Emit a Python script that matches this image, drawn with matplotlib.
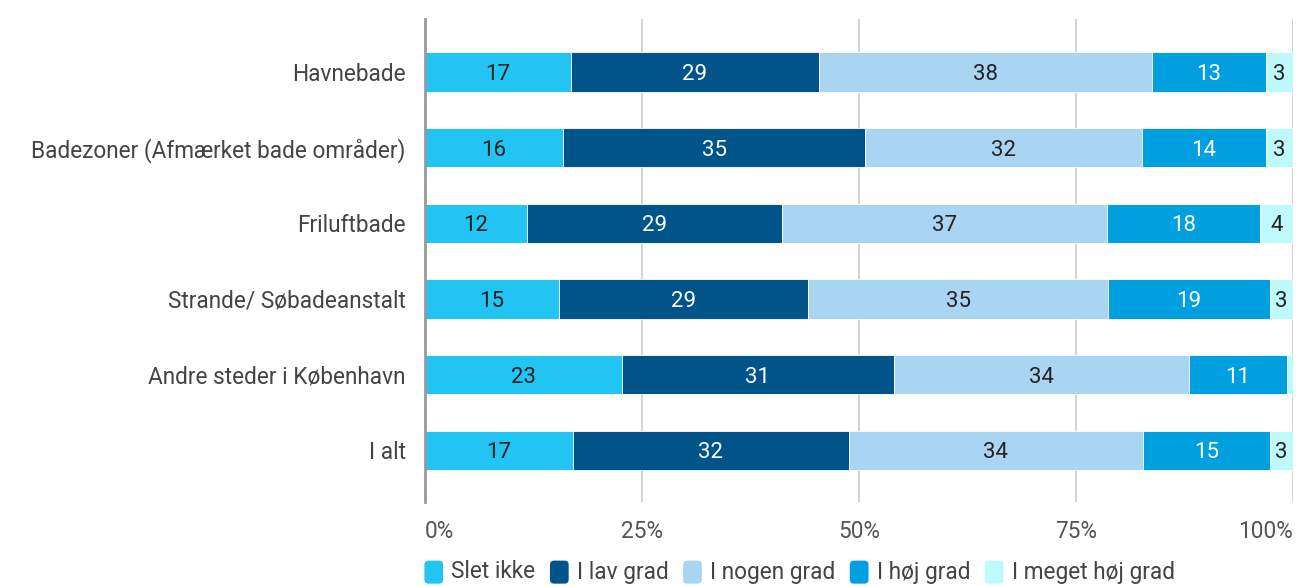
import matplotlib.pyplot as plt
from matplotlib.patches import Patch, FancyBboxPatch
from matplotlib.legend_handler import HandlerPatch

plt.rcParams['font.family'] = ['Roboto', 'DejaVu Sans']

categories = ["Havnebade", "Badezoner (Afmærket bade områder)", "Friluftbade",
              "Strande/ Søbadeanstalt", "Andre steder i København", "I alt"]
series_names = ["Slet ikke", "I lav grad", "I nogen grad", "I høj grad", "I meget høj grad"]
slet_ikke = [16.8, 15.9, 11.7, 15.4, 22.7, 17.0]
lav_grad = [28.6, 34.8, 29.4, 28.7, 31.3, 31.8]
nogen_grad = [38.3, 31.9, 37.4, 34.6, 34.0, 33.9]
hoj_grad = [13.1, 14.2, 17.7, 18.6, 11.3, 14.6]
meget_hoj_grad = [3.2, 3.2, 3.8, 2.7, 0.7, 2.7]
x_ticks = [0, 25, 50, 75, 100]
x_ticklabels = ["0%", "25%", "50%", "75%", "100%"]

series = [slet_ikke, lav_grad, nogen_grad, hoj_grad, meget_hoj_grad]
colors = ["#21c4f3", "#00548a", "#a9d5f3", "#009fe0", "#bdf9fd"]
text_colors = ["#222222", "white", "#222222", "white", "#222222"]


class RoundHandler(HandlerPatch):
    def create_artists(self, legend, orig_handle, xdescent, ydescent,
                       width, height, fontsize, trans):
        p = FancyBboxPatch((-xdescent + 1, -ydescent - 2), width - 2, height + 2,
                           boxstyle="round,pad=0,rounding_size=3",
                           facecolor=orig_handle.get_facecolor(),
                           edgecolor="none", transform=trans)
        return [p]


fig = plt.figure(figsize=(13.03, 5.86), dpi=100)
ax = fig.add_axes([425 / 1303, 1 - 502 / 586, 868.3 / 1303, 483 / 586])

ypos = list(range(len(categories)))
left = [0.0] * len(categories)
for vals, col, tcol in zip(series, colors, text_colors):
    bars = ax.barh(ypos, vals, left=left, height=0.52, color=col,
                   edgecolor="white", linewidth=0.6, zorder=2)
    for b, v in zip(bars, vals):
        if v >= 1.5:
            ax.text(b.get_x() + b.get_width() / 2, b.get_y() + b.get_height() / 2,
                    f"{v:.0f}", ha="center", va="center_baseline", color=tcol,
                    fontsize=16, zorder=3)
    left = [l + v for l, v in zip(left, vals)]

ax.set_xlim(0, 100)
ax.set_ylim(5.683, -0.70)
ax.set_yticks(ypos)
ax.set_yticklabels(categories, fontsize=16.3, color="#444444")
ax.set_xticks(x_ticks)
ax.set_xticklabels(x_ticklabels, fontsize=16.3, color="#555555")
ax.get_xticklabels()[0].set_ha("left")
ax.get_xticklabels()[-1].set_ha("right")
ax.tick_params(axis="y", length=0, pad=14)
ax.tick_params(axis="x", length=0, pad=13)
for s in ["top", "right", "bottom"]:
    ax.spines[s].set_visible(False)
ax.spines["left"].set_color("#999999")
ax.spines["left"].set_linewidth(2)
ax.spines["left"].set_zorder(4)
ax.set_axisbelow(True)
ax.xaxis.grid(True, color="#cccccc", linewidth=1.2)

handles = [Patch(facecolor=c) for c in colors]
fig.legend(handles, series_names, loc="center left",
           bbox_to_anchor=(423 / 1303, 1 - 572 / 586), ncol=5, frameon=False,
           fontsize=16.3, labelcolor="#444444", handlelength=0.95, handleheight=1.0,
           handletextpad=0.3, columnspacing=0.58, borderpad=0, borderaxespad=0,
           handler_map={Patch: RoundHandler()})

fig.savefig("out.png", dpi=100)
